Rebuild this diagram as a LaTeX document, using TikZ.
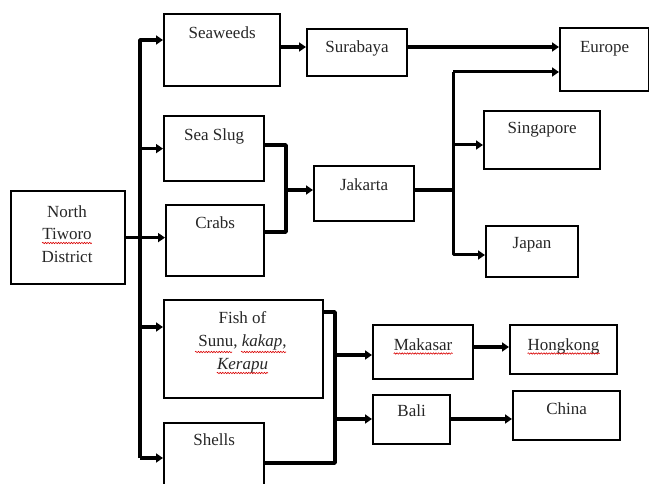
\documentclass[tikz,border=0pt]{standalone}
\usepackage{fontspec}
\setmainfont{Liberation Serif}
\usetikzlibrary{arrows.meta,decorations.pathmorphing}
\newcommand\mybox[5]{\node[box, minimum width={#4-#2}, minimum height={#5-#3}] (#1) at (#2,#3) {};}
\tikzset{
  box/.style={draw, line width=2.2pt, inner sep=0pt, anchor=north west},
  txt/.style={inner sep=0pt, anchor=base, font=\fontsize{17}{22.5}\selectfont, text=black!85},
  ln/.style={line width=3.4pt, line join=round},
  arr/.style={ln, -{Triangle[length=7pt,width=9pt]}},
  squig/.style={red!85!black, line width=0.6pt, decorate, decoration={snake, amplitude=0.7pt, segment length=2.6pt}},
}
\begin{document}
\begin{tikzpicture}[x=1pt,y=-1pt]
\clip (0,0) rectangle (649,484);
\useasboundingbox (0,0) rectangle (649,484);
% boxes
\mybox{ntd}{10}{190}{124}{283}
\mybox{sw}{163}{13}{279}{85}
\mybox{ss}{163}{115}{263}{180}
\mybox{cr}{165}{204}{263}{275}
\mybox{fish}{163}{299}{322}{397}
\mybox{sh}{163}{422}{263}{500}
\mybox{sur}{306}{28}{406}{75}
\mybox{eu}{559}{27}{648}{90}
\mybox{sg}{483}{110}{599}{168}
\mybox{jk}{313}{165}{413}{220}
\mybox{jp}{485}{225}{577}{276}
\mybox{mk}{372}{324}{472}{378}
\mybox{hk}{509}{324}{616}{373}
\mybox{bl}{372}{394}{449}{443}
\mybox{cn}{512}{390}{619}{439}
% texts
\node[txt] (ntd-t1) at (67,217.5) {North};
\node[txt] (ntd-t2) at (67,240) {Tiworo};
\node[txt] (ntd-t3) at (67,262.5) {District};
\node[txt] (fish-t1) at (242.5,323.5) {Fish of};
\node[txt] (fish-t2) at (242.5,346.5) {Sunu, \emph{kakap},};
\node[txt] (fish-t3) at (242.5,370) {\emph{Kerapu}};
\node[txt] (sw-t) at ([yshift=-25.5pt]sw.north) {Seaweeds};
\node[txt] (ss-t) at ([yshift=-25.5pt]ss.north) {Sea Slug};
\node[txt] (cr-t) at ([yshift=-24.5pt]cr.north) {Crabs};
\node[txt] (sh-t) at ([yshift=-23.5pt]sh.north) {Shells};
\node[txt] (sur-t) at ([yshift=-24.5pt]sur.north) {Surabaya};
\node[txt] (eu-t) at ([yshift=-25.5pt]eu.north) {Europe};
\node[txt] (sg-t) at ([yshift=-23.5pt]sg.north) {Singapore};
\node[txt] (jk-t) at ([yshift=-25.5pt]jk.north) {Jakarta};
\node[txt] (jp-t) at ([yshift=-23.5pt]jp.north) {Japan};
\node[txt] (mk-t) at ([yshift=-26.5pt]mk.north) {Makasar};
\node[txt] (hk-t) at ([yshift=-26.5pt]hk.north) {Hongkong};
\node[txt] (bl-t) at ([yshift=-22.5pt]bl.north) {Bali};
\node[txt] (cn-t) at ([yshift=-24.5pt]cn.north) {China};
% spell-check underlines
\draw[squig] ([yshift=-3pt]ntd-t2.base west) -- ([yshift=-3pt]ntd-t2.base east);
\draw[squig] ([yshift=-3pt]mk-t.base west) -- ([yshift=-3pt]mk-t.base east);
\draw[squig] ([yshift=-3pt]hk-t.base west) -- ([yshift=-3pt]hk-t.base east);
\draw[squig] ([yshift=-3pt]fish-t3.base west) -- ([yshift=-3pt]fish-t3.base east);
\coordinate (u1) at (195,352);
\coordinate (u2) at (232,352);
\coordinate (u3) at (241,352);
\coordinate (u4) at (286,352);
\draw[squig] (u1) -- (u2);
\draw[squig] (u3) -- (u4);
% junction coordinates
\coordinate (tr) at (140,0);
\coordinate (tA) at (140,40);
\coordinate (tB) at (140,327);
\coordinate (tE) at (140,458);
\coordinate (r1) at (0,47);
\coordinate (j1) at (286,145);
\coordinate (j2) at (286,232);
\coordinate (j3) at (286,190);
\coordinate (k0) at (453,190);
\coordinate (k1) at (453,72);
\coordinate (k2) at (453,145);
\coordinate (k3) at (453,255);
\coordinate (m0) at (335,312);
\coordinate (m1) at (335,355);
\coordinate (m2) at (335,419);
\coordinate (m3) at (335,463);
\coordinate (r5) at (0,347);
\coordinate (r6) at (0,419);
% connectors
\draw[arr] (ntd.east) -- (cr.west |- ntd.east);
\draw[arr] (tE) -- (tA) -- (sw.west |- tA);
\draw[arr] (tr |- ss.west) -- (ss.west);
\draw[arr] (tB) -- (fish.west |- tB);
\draw[arr] (tE) -- (sh.west |- tE);
\draw[arr] (sw.east |- r1) -- (sur.west |- r1);
\draw[arr, line width=4.4pt] (sur.east |- r1) -- (eu.west |- r1);
\draw[ln] (ss.east |- j1) -- (j1) -- (j2) -- (cr.east |- j2);
\draw[arr] (j3) -- (jk.west |- j3);
\draw[ln, line width=4pt] (jk.east |- k0) -- (k0);
\draw[arr, line width=3pt] (k1) -- (k3) -- (jp.west |- k3);
\draw[arr, line width=3pt] (k1) -- (eu.west |- k1);
\draw[arr, line width=3pt] (k2) -- (sg.west |- k2);
\draw[ln] (fish.east |- m0) -- (m0) -- (m3) -- (sh.east |- m3);
\draw[arr] (m1) -- (mk.west |- m1);
\draw[arr] (m2) -- (bl.west |- m2);
\draw[arr] (mk.east |- r5) -- (hk.west |- r5);
\draw[arr] (bl.east |- r6) -- (cn.west |- r6);
\end{tikzpicture}
\end{document}
